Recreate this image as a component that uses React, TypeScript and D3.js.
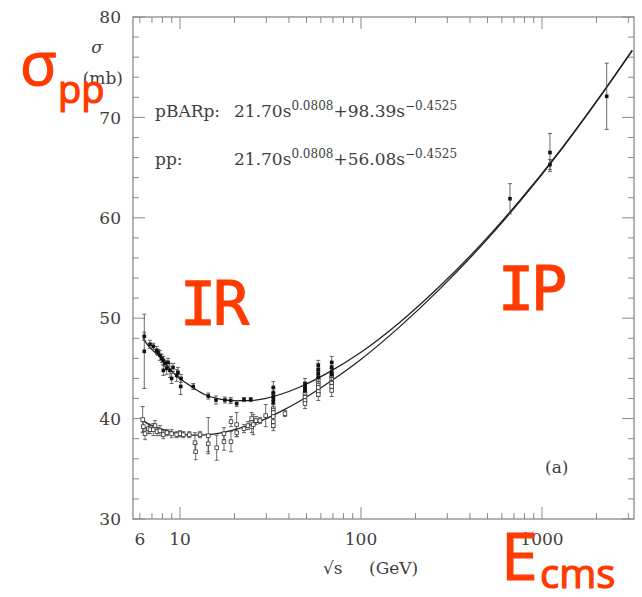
import React from "react";
import * as d3 from "d3";

// axis labels
const yTickLabels = [30, 40, 50, 60, 70, 80];
const xTickLabels = [6, 10, 100, 1000];

// fit curves
const fitSqrtS = [6.25, 6.8, 7.5, 8.1, 8.8, 10, 11.8, 13.7, 16.6, 20.1, 24.4, 29.5, 35.7, 46, 67, 99, 164, 273, 455, 756, 1257, 2091, 3150];
const fitPbarp = [48.0, 47.1, 46.4, 45.8, 44.9, 44.0, 43.1, 42.4, 41.95, 41.8, 41.8, 42.0, 42.4, 43.15, 44.65, 46.55, 49.6, 53.2, 57.25, 61.75, 66.7, 72.1, 76.7];
const fitPp = [39.8, 39.4, 39.1, 38.9, 38.7, 38.45, 38.35, 38.37, 38.55, 38.9, 39.37, 39.95, 40.67, 41.75, 43.64, 45.84, 49.16, 52.92, 57.08, 61.64, 66.63, 72.05, 76.65];

// pBARp measurements
const pbarpSqrtS = [6.35, 6.35, 6.83, 7.12, 7.43, 7.56, 7.75, 7.93, 8.09, 8.26, 8.44, 8.09, 8.59, 8.8, 8.99, 9.15, 9.59, 9.75, 10.09, 10.13, 11.84, 14.33, 15.81, 17.71, 19.06, 20.57, 22.58, 24.59, 32.78, 32.78, 32.78, 32.78, 32.78, 49.05, 49.05, 49.05, 49.05, 58.08, 58.08, 58.08, 58.08, 68.89, 68.89, 68.89, 68.89, 665.6, 1107, 1107, 2278];
const pbarpSigma = [48.2, 46.7, 47.4, 47.2, 46.8, 46.6, 46.3, 46.0, 45.8, 45.5, 45.0, 44.8, 45.6, 44.8, 44.0, 45.1, 44.3, 44.6, 43.2, 44.0, 43.2, 42.25, 41.85, 41.85, 41.8, 41.5, 41.9, 41.9, 43.1, 42.6, 42.2, 41.9, 41.6, 43.5, 43.2, 43.0, 42.8, 45.3, 44.9, 44.5, 44.1, 45.6, 45.1, 44.7, 44.4, 61.9, 66.5, 65.3, 72.1];
const pbarpErr = [0.4, 3.7, 0.4, 0.3, 0.4, 0.3, 0.5, 0.4, 0.4, 0.3, 0.6, 0.5, 0.4, 0.7, 0.5, 0.4, 0.6, 0.5, 0.8, 0.4, 0.3, 0.3, 0.4, 0.3, 0.3, 0.3, 0.2, 0.2, 0.6, 0.5, 0.4, 0.5, 0.6, 0.5, 0.4, 0.4, 0.5, 0.5, 0.6, 0.5, 0.6, 0.6, 0.5, 0.6, 0.7, 1.5, 1.9, 0.5, 3.3];

// pp measurements
const ppSqrtS = [6.22, 6.27, 6.41, 6.68, 6.83, 7.12, 7.28, 7.46, 7.75, 8.09, 8.47, 8.99, 9.59, 10, 10.43, 11.26, 12.1, 12.21, 12.9, 14.33, 14.33, 15.95, 17.5, 17.5, 19.13, 19.13, 20.57, 20.57, 22.58, 23.76, 24.9, 24.9, 24.9, 25.41, 26.3, 27.67, 29.75, 32.78, 32.78, 32.78, 32.78, 32.78, 38.03, 49.05, 49.05, 49.05, 49.05, 58.08, 58.08, 58.08, 58.08, 58.08, 68.89, 68.89, 68.89, 68.89, 68.89];
const ppSigma = [39.9, 39.2, 38.5, 39.0, 38.9, 38.9, 39.3, 38.7, 38.8, 38.4, 38.6, 38.5, 38.4, 38.5, 38.4, 38.4, 37.6, 36.7, 38.4, 38.3, 37.5, 37.1, 38.5, 37.7, 39.7, 37.7, 39.4, 38.6, 39.0, 39.3, 39.2, 39.6, 40.0, 39.4, 39.8, 39.8, 40.3, 41.0, 40.6, 40.2, 39.7, 39.3, 40.5, 42.2, 41.8, 41.5, 42.5, 43.5, 43.1, 42.7, 42.4, 43.9, 44.0, 43.6, 43.2, 42.8, 44.3];
const ppErr = [1.3, 0.5, 0.6, 0.5, 0.4, 0.6, 0.5, 0.4, 0.5, 0.4, 0.3, 0.4, 0.3, 0.3, 0.3, 0.3, 1.0, 0.8, 0.3, 1.8, 0.8, 1.25, 0.6, 0.85, 0.5, 1.0, 1.2, 0.4, 0.4, 0.4, 0.6, 0.5, 0.6, 1.0, 0.4, 0.3, 1.1, 0.5, 0.4, 0.5, 0.6, 0.5, 0.3, 0.5, 0.4, 0.5, 0.6, 0.6, 0.5, 0.5, 0.6, 0.5, 0.6, 0.5, 0.5, 0.6, 0.7];

const RED = "#ff3b00";
const SERIF = "'DejaVu Serif', serif";
const GRAY = "#404040";

export default function App() {
  const x = d3.scaleLog().domain([5.5, 3224]).range([133, 634]);
  const y = d3.scaleLinear().domain([30, 80]).range([519, 17]);
  const [x0, x1] = x.range();
  const [yb, yt] = y.range();

  const line = d3
    .line<number>()
    .x((d, i) => x(fitSqrtS[i]))
    .y((d) => y(d))
    .curve(d3.curveMonotoneX);

  const xTicks = x.ticks();
  const yTicks = d3.range(30, 81, 2);
  const isMajorX = (v: number) => Math.abs(Math.log10(v) - Math.round(Math.log10(v))) < 1e-9;

  const errBar = (sx: number, sy: number, e: number, key: string) => {
    const cx = x(sx);
    return (
      <g key={key} stroke="#444" strokeWidth={0.8}>
        <line x1={cx} x2={cx} y1={y(sy - e)} y2={y(sy + e)} />
        <line x1={cx - 2} x2={cx + 2} y1={y(sy - e)} y2={y(sy - e)} />
        <line x1={cx - 2} x2={cx + 2} y1={y(sy + e)} y2={y(sy + e)} />
      </g>
    );
  };

  return (
    <svg width={642} height={597} style={{ position: "absolute", left: 0, top: 0, background: "#fff" }}>
      {/* frame */}
      <rect x={x0} y={yt} width={x1 - x0} height={yb - yt} fill="none" stroke="#8a8a8a" strokeWidth={1.3} />

      {/* y ticks */}
      {yTicks.map((v) => {
        const len = v % 10 === 0 ? 12 : 6;
        return (
          <g key={"y" + v} stroke="#8a8a8a" strokeWidth={1}>
            <line x1={x0} x2={x0 + len} y1={y(v)} y2={y(v)} />
            <line x1={x1} x2={x1 - len} y1={y(v)} y2={y(v)} />
          </g>
        );
      })}
      {yTickLabels.map((v) => (
        <text key={"yl" + v} x={121} y={y(v)} dy="0.36em" textAnchor="end" fontFamily={SERIF} fontSize={17} fill={GRAY}>
          {v}
        </text>
      ))}

      {/* x ticks */}
      {xTicks.map((v) => {
        const len = isMajorX(v) ? 12 : 6;
        return (
          <g key={"x" + v} stroke="#8a8a8a" strokeWidth={1}>
            <line x1={x(v)} x2={x(v)} y1={yb} y2={yb - len} />
            <line x1={x(v)} x2={x(v)} y1={yt} y2={yt + len} />
          </g>
        );
      })}
      {xTickLabels.map((v) => (
        <text key={"xl" + v} x={x(v)} y={545} textAnchor="middle" fontFamily={SERIF} fontSize={17} fill={GRAY}>
          {v}
        </text>
      ))}

      {/* axis titles */}
      <text x={323} y={574} fontFamily={SERIF} fontSize={17} fill={GRAY}>√s</text>
      <text x={369} y={574} fontFamily={SERIF} fontSize={17} fill={GRAY}>(GeV)</text>
      <text x={97} y={53} textAnchor="middle" fontFamily={SERIF} fontStyle="italic" fontSize={17} fill={GRAY}>σ</text>
      <text x={123} y={84} textAnchor="end" fontFamily={SERIF} fontSize={17} fill={GRAY}>(mb)</text>

      {/* fit formulas */}
      <g fontFamily={SERIF} fontSize={17} fill={GRAY}>
        <text x={155} y={117}>pBARp:</text>
        <text x={234} y={117}>
          21.70s<tspan dy={-7} fontSize={12}>0.0808</tspan>
          <tspan dy={7}>+98.39s</tspan>
          <tspan dy={-7} fontSize={12}>−0.4525</tspan>
        </text>
        <text x={155} y={165}>pp:</text>
        <text x={234} y={165}>
          21.70s<tspan dy={-7} fontSize={12}>0.0808</tspan>
          <tspan dy={7}>+56.08s</tspan>
          <tspan dy={-7} fontSize={12}>−0.4525</tspan>
        </text>
        <text x={545} y={473}>(a)</text>
      </g>

      {/* fit curves */}
      <path d={line(fitPbarp) ?? ""} fill="none" stroke="#222" strokeWidth={1.3} />
      <path d={line(fitPp) ?? ""} fill="none" stroke="#222" strokeWidth={1.3} />

      {/* pp points */}
      {ppSqrtS.map((s, i) => errBar(s, ppSigma[i], ppErr[i], "pe" + i))}
      {ppSqrtS.map((s, i) => (
        <rect key={"pp" + i} x={x(s) - 1.8} y={y(ppSigma[i]) - 1.8} width={3.6} height={3.6} fill="#fff" stroke="#333" strokeWidth={0.8} />
      ))}

      {/* pBARp points */}
      {pbarpSqrtS.map((s, i) => errBar(s, pbarpSigma[i], pbarpErr[i], "be" + i))}
      {pbarpSqrtS.map((s, i) => (
        <rect key={"pb" + i} x={x(s) - 1.8} y={y(pbarpSigma[i]) - 1.8} width={3.6} height={3.6} fill="#111" />
      ))}

      {/* red annotations */}
      <g fill={RED} stroke={RED} strokeWidth={1.2}>
        <text x={20} y={85} fontFamily="'Open Sans', sans-serif" fontSize={60}>σ</text>
        <text x={58} y={103} fontFamily="'Open Sans', sans-serif" fontSize={38}>pp</text>
        <text x={180} y={325} fontFamily="'DejaVu Sans Mono', monospace" fontSize={60} letterSpacing={-3}>IR</text>
        <text x={498} y={310} fontFamily="'DejaVu Sans Mono', monospace" fontSize={60} letterSpacing={-3}>IP</text>
        <text x={501} y={580} fontFamily="'Open Sans', sans-serif" fontSize={66}>E</text>
        <text x={540} y={588} fontFamily="'Open Sans', sans-serif" fontSize={40}>cms</text>
      </g>
    </svg>
  );
}
